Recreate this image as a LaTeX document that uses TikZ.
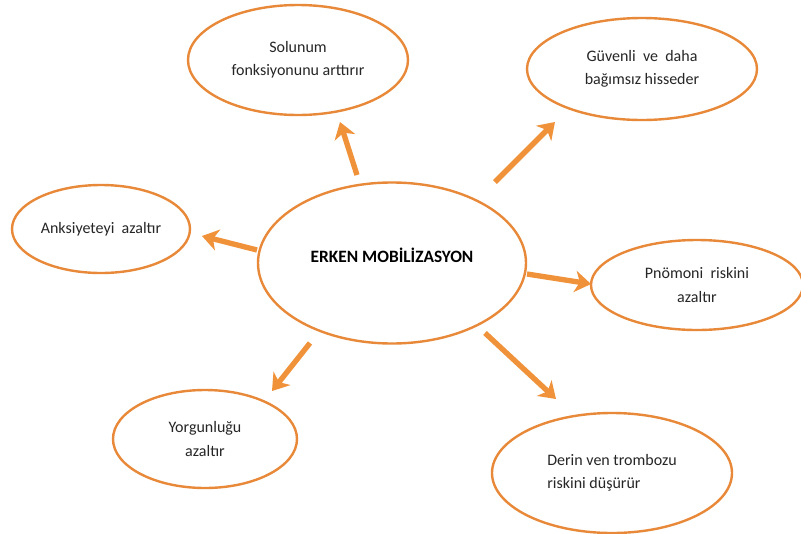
\documentclass[tikz,border=0pt]{standalone}
\usepackage{fontspec}
\setmainfont{Carlito}
\usetikzlibrary{shapes.geometric,arrows.meta}
\definecolor{orangeline}{HTML}{E8893A}
\definecolor{orangearrow}{HTML}{F0923A}
\begin{document}
\begin{tikzpicture}[x=0.75pt,y=-0.75pt,
  bubble/.style={draw=orangeline,line width=1.8pt,fill=white,ellipse,inner sep=0pt,
    font=\fontsize{12}{17.5}\selectfont,text=black!85},
  arr/.style={draw=orangearrow,line width=4pt,
    -{Stealth[length=12pt,width=16pt,inset=3.5pt]}}]
\useasboundingbox (0,0) rectangle (801,533);
\fill[white] (0,0) rectangle (801,533);
\node[bubble,minimum width=268*0.75pt,minimum height=161*0.75pt,text depth=12pt,font=\fontsize{13}{17}\selectfont\bfseries,text=black] (c) at (392,263) {ERKEN MOBİLİZASYON};
\node[bubble,minimum width=220*0.75pt,minimum height=110*0.75pt,align=center] (s) at (298,60) {Solunum\\fonksiyonunu arttırır};
\node[bubble,minimum width=230*0.75pt,minimum height=102*0.75pt,align=center] (g) at (642,69) {Güvenli~ ve~ daha\\bağımsız hisseder};
\node[bubble,minimum width=178*0.75pt,minimum height=88*0.75pt,align=center] (a) at (101,229) {Anksiyeteyi~ azaltır};
\node[bubble,minimum width=212*0.75pt,minimum height=90*0.75pt,align=center] (p) at (697,285) {Pnömoni~ riskini\\azaltır};
\node[bubble,minimum width=184*0.75pt,minimum height=98*0.75pt,align=center] (y) at (205,439) {Yorgunluğu\\azaltır};
\node[bubble,minimum width=240*0.75pt,minimum height=120*0.75pt,align=left] (d) at (612,473) {Derin ven trombozu\\riskini düşürür};
\coordinate (s1) at (357,175); \coordinate (s2) at (340,122);
\coordinate (g1) at (495,182); \coordinate (g2) at (555,122);
\coordinate (a1) at (257,250); \coordinate (a2) at (202,236);
\coordinate (p1) at (527,274); \coordinate (p2) at (591,284);
\coordinate (y1) at (310,343); \coordinate (y2) at (272,391);
\coordinate (d1) at (485,333); \coordinate (d2) at (556,399);
\draw[arr] (s1) -- (s2);
\draw[arr] (g1) -- (g2);
\draw[arr] (a1) -- (a2);
\draw[arr] (p1) -- (p2);
\draw[arr] (y1) -- (y2);
\draw[arr] (d1) -- (d2);
\end{tikzpicture}
\end{document}
